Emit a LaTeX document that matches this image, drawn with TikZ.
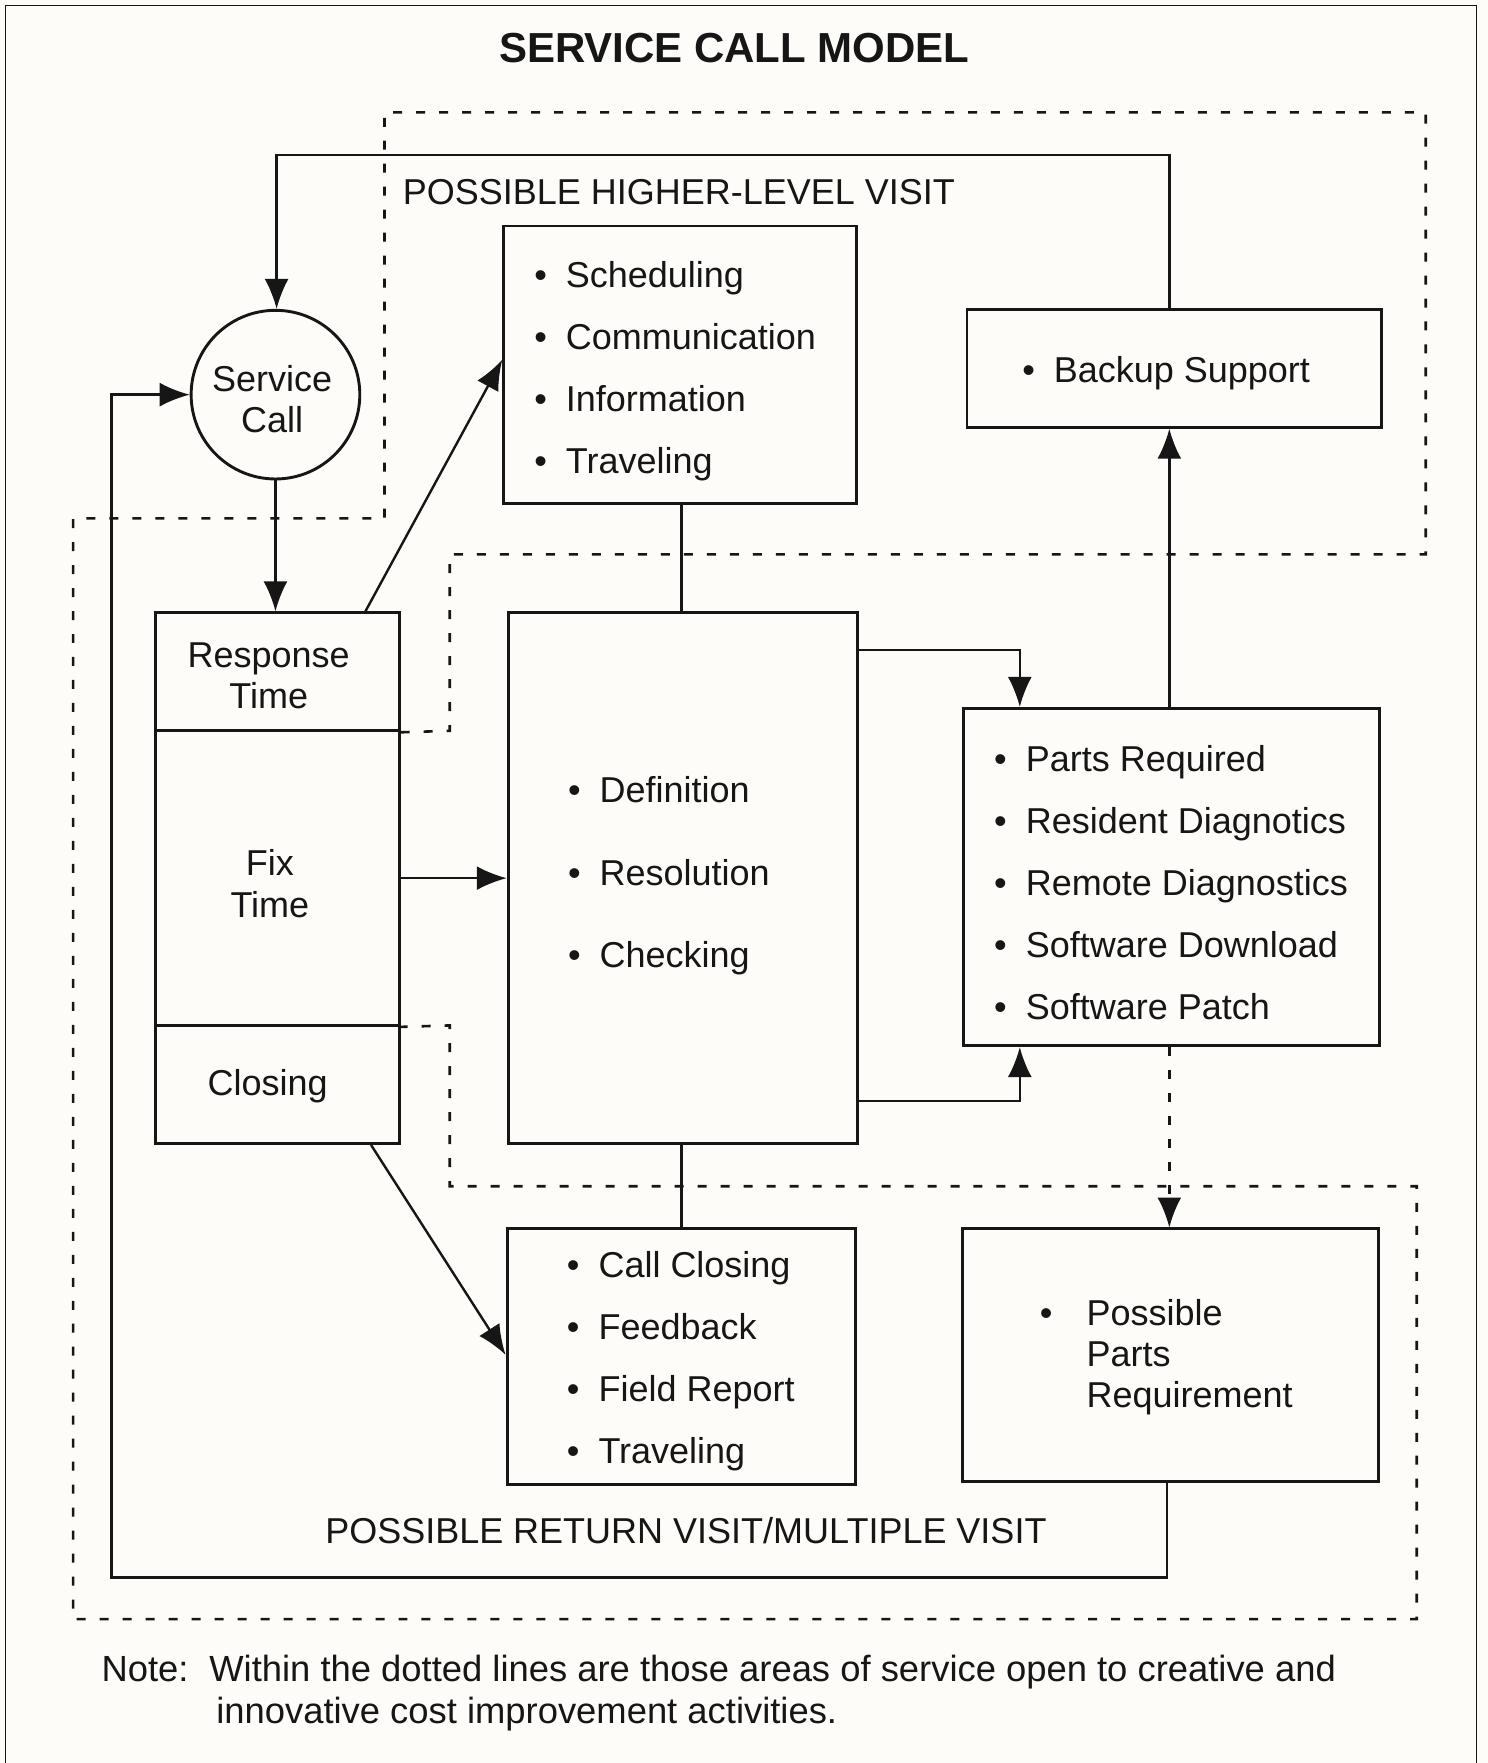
\documentclass[tikz,border=0pt]{standalone}
\usepackage{fontspec}
\setmainfont{Liberation Sans}
\usetikzlibrary{arrows.meta,fit}
\definecolor{bgc}{RGB}{253,252,249}
\definecolor{inkc}{RGB}{22,22,22}
\newcommand\bul{\llap{\textbullet\kern9.5pt}}
\newcommand\bulw{\llap{\textbullet\kern17pt}}
\begin{document}
\begin{tikzpicture}[x=0.5624pt,y=-0.5624pt,
  box/.style={draw=inkc, line width=1.45pt, inner sep=0pt, fit={#1}},
  txt/.style={font=\fontsize{18}{31}\selectfont, inner sep=0pt, align=left, anchor=west, text=inkc},
  ctxt/.style={font=\fontsize{18}{20.8}\selectfont, inner sep=0pt, align=center, text=inkc},
  conn/.style={draw=inkc, line width=1.2pt},
  arr/.style={conn, -{Latex[length=15pt,width=12pt]}},
  dsh/.style={draw=inkc, line width=1.3pt, dash pattern=on 4.5pt off 7pt},
]
\useasboundingbox (0,0) rectangle (1323,1568);
\fill[bgc] (0,0) rectangle (1323,1568);
% page frame
\draw[inkc, line width=0.7pt] (5,1568) -- (5,5) -- (1313,5) -- (1313,1568);

% title
\node[font=\fontsize{21}{24}\selectfont\bfseries, text=inkc] (title) at (653,43) {SERVICE CALL MODEL};

% boxes
\node[circle, draw=inkc, line width=1.45pt, minimum size=150*0.5624pt, inner sep=0pt] (circ) at (245,351) {};
\node[box={(138,545) (355,650)}] (resp) {};
\node[box={(138,650) (355,912)}] (fix) {};
\node[box={(138,912) (355,1017)}] (closing) {};
\node[box={(448,201) (762,448)}] (sched) {};
\node[box={(860,275) (1229,380)}] (backup) {};
\node[box={(452,545) (763,1017)}] (mid) {};
\node[box={(857,630) (1227,930)}] (parts) {};
\node[box={(451,1093) (761,1320)}] (closebox) {};
\node[box={(856,1093) (1226,1318)}] (pparts) {};

% texts in boxes
\node[ctxt] (circtxt) at (242,355) {Service\\Call};
\node[ctxt] (resptxt) at (239,601) {Response\\Time};
\node[ctxt] (fixtxt) at (240,786) {Fix\\Time};
\node[ctxt] (closingtxt) at (238,966) {Closing};
\node[txt] (schedtxt) at (503,330) {\bul Scheduling\\\bul Communication\\\bul Information\\\bul Traveling};
\node[txt] (backuptxt) at (937,332) {\bul Backup Support};
\node[txt, font=\fontsize{18}{41.3}\selectfont] (midtxt) at (533,779) {\bul Definition\\\bul Resolution\\\bul Checking};
\node[txt] (partstxt) at (912,785) {\bul Parts Required\\\bul Resident Diagnotics\\\bul Remote Diagnostics\\\bul Software Download\\\bul Software Patch};
\node[txt] (closetxt) at (532,1211) {\bul Call Closing\\\bul Feedback\\\bul Field Report\\\bul Traveling};
\node[txt, font=\fontsize{18}{20.6}\selectfont] (ppartstxt) at (966,1207) {\bulw Possible\\Parts\\Requirement};

% labels
\node[txt] (hlv) at (358,171) {POSSIBLE HIGHER-LEVEL VISIT};
\node[ctxt] (rv) at (610,1361) {POSSIBLE RETURN VISIT/MULTIPLE VISIT};
\node[txt, font=\fontsize{18.2}{20.8}\selectfont, anchor=north west] (note) at (90,1472)
  {Note:\hspace{10.4pt}Within the dotted lines are those areas of service open to creative and\\
   \hspace*{57.4pt}innovative cost improvement activities.};

% dashed region
\draw[dsh] (resp.south east) -- (400,650) -- (400,493) -- (1268,493) -- (1268,100) -- (342,100)
  -- (342,461) -- (65,461) -- (65,1440) -- (1260,1440) -- (1260,1055) -- (400,1055) -- (400,912) -- (fix.south east);

% connectors
\coordinate (tl) at (246,138);
\coordinate (lb) at (99,1403);
\draw[arr] (1040,0 |- backup.north) |- (tl) -- (tl |- circ.north);
\draw[arr] (circ.south) -- (circ.south |- resp.north);
\draw[arr] (325,0 |- resp.north) -- (sched.west |- 0,320);
\draw[conn] (606,0 |- sched.south) -- (606,0 |- mid.north);
\draw[conn] (606,0 |- mid.south) -- (606,0 |- closebox.north);
\draw[arr] (fix.east) -- (fix.east -| mid.west);
\draw[arr] (mid.east |- 0,578) -| (907,0 |- parts.north);
\draw[arr] (mid.east |- 0,979) -| (907,0 |- parts.south);
\draw[arr] (1040,0 |- parts.north) -- (1040,0 |- backup.south);
\draw[dsh, -{Latex[length=15pt,width=12pt]}] (1040,0 |- parts.south) -- (1040,0 |- pparts.north);
\draw[arr] (330,0 |- closing.south) -- (closebox.west |- 0,1205);
\draw[arr] (1038,0 |- pparts.south) |- (lb) |- (circ.west);
\end{tikzpicture}
\end{document}
